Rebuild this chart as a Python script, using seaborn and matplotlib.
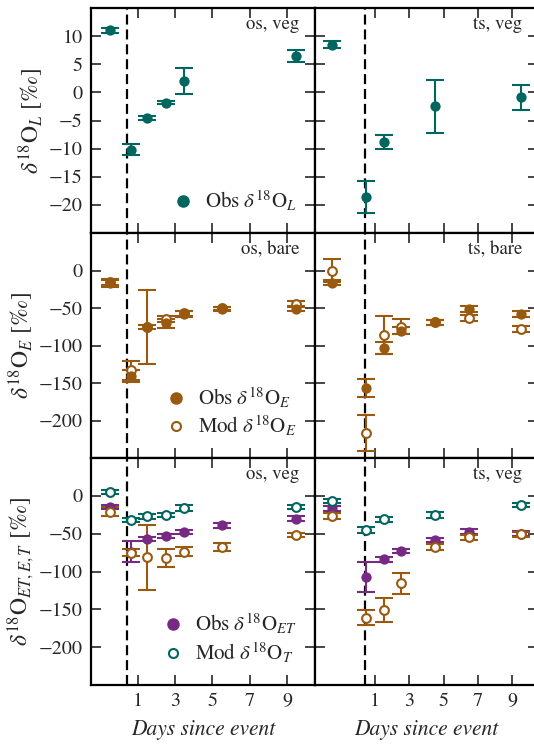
import matplotlib
matplotlib.use('Agg')
import matplotlib.pyplot as plt
from matplotlib.lines import Line2D
import seaborn as sns
import pandas as pd

sns.set_style('ticks')
plt.rcParams['font.family'] = 'serif'
plt.rcParams['font.serif'] = ['STIXGeneral', 'Liberation Serif', 'DejaVu Serif']
plt.rcParams['mathtext.fontset'] = 'stix'
plt.rcParams['axes.linewidth'] = 1.6
plt.rcParams['axes.edgecolor'] = 'black'

TEAL = '#01665e'
BROWN = '#995a10'
PURPLE = '#762a83'

# ---- data (days since event, delta18O in permil) ----
# row 1: leaf water, obs only
os_L_x = [-0.5, 0.62, 1.5, 2.5, 3.5, 9.5]
os_L_obs = [11.0, -10.2, -4.5, -1.8, 2.0, 6.5]
os_L_err = [0.4, 1.0, 0.35, 0.35, 2.3, 1.1]

ts_L_x = [-1.5, 0.5, 1.5, 4.5, 9.5]
ts_L_obs = [8.5, -18.6, -8.8, -2.5, -0.9]
ts_L_err = [0.6, 2.9, 1.25, 4.7, 2.2]

# row 2: bare soil evaporation
os_E_x = [-0.5, 0.62, 1.5, 2.5, 3.5, 5.5, 9.5]
os_E_obs = [-17, -140, -75, -70, -58, -51, -51]
os_E_obs_err = [5, 8, 3, 6, 4, 3, 3]
os_E_mod = [-15, -133, -75, -65, -57, -50, -44]
os_E_mod_err = [4, 13, 49, 4, 3, 2, 3]

ts_E_x = [-1.5, 0.5, 1.5, 2.5, 4.5, 6.5, 9.5]
ts_E_obs = [-16, -157, -103, -80, -69, -51, -58]
ts_E_obs_err = [3, 12, 8, 5, 3, 4, 4]
ts_E_mod = [0, -216, -86, -75, -69, -63, -78]
ts_E_mod_err = [15, 24, 25, 10, 3, 4, 4]

# row 3: vegetated, ET obs, T and E modelled
os_ET_x = [-0.5, 0.62, 1.5, 2.5, 3.5, 5.5, 9.5]
os_ET_obs = [-14.5, -74, -57, -53, -48, -39, -30]
os_ET_err = [3, 14, 3, 3, 3, 3, 3]
os_T_x = [-0.5, 0.62, 1.5, 2.5, 3.5, 9.5]
os_T_mod = [5, -32, -27, -25.6, -15.5, -14.5]
os_T_err = [3, 3, 3, 3, 4, 3]
os_Ev_mod = [-21, -75, -81, -82, -74, -67.5, -51.6]
os_Ev_err = [6, 5, 43, 12, 6, 5, 3]

ts_ET_x = [-1.5, 0.5, 1.5, 2.5, 4.5, 6.5, 9.5]
ts_ET_obs = [-16.7, -107, -84, -72.8, -58.3, -47.2, -49.8]
ts_ET_err = [3, 20, 3, 3, 3, 3, 3]
ts_T_x = [-1.5, 0.5, 1.5, 4.5, 9.5]
ts_T_mod = [-6.6, -45.4, -31, -25.6, -12.3]
ts_T_err = [3, 4, 3, 4, 3]
ts_Ev_mod = [-26.5, -161, -151, -115.6, -67.5, -55, -51]
ts_Ev_err = [4, 10, 16, 14, 4, 3, 3]

event_day = 0.42
xticks = [1, 3, 5, 7, 9]

W, H = 534, 744
fig = plt.figure(figsize=(W / 100, H / 100), dpi=100)


def px_axes(x0, x1, y0, y1):
    return fig.add_axes([x0 / W, 1 - y1 / H, (x1 - x0) / W, (y1 - y0) / H])


rows = [(8, 233), (233, 458), (458, 685)]
axes = []
for (y0, y1) in rows:
    a_l = px_axes(91, 315, y0, y1)
    a_r = px_axes(315, 538, y0, y1)
    axes.append((a_l, a_r))


def draw(ax, x, y, err, color, filled):
    ax.errorbar(x, y, yerr=err, fmt='none', ecolor=color, elinewidth=1.5,
                capsize=6.5, capthick=1.5, zorder=2)
    df = pd.DataFrame({'x': x, 'y': y})
    if filled:
        sns.scatterplot(data=df, x='x', y='y', ax=ax, color=color, s=55,
                        edgecolor=color, linewidth=0, zorder=3)
    else:
        sns.scatterplot(data=df, x='x', y='y', ax=ax, s=40, marker='o',
                        facecolor='white', edgecolor=color, linewidth=1.5,
                        zorder=3)


# row 1
draw(axes[0][0], os_L_x, os_L_obs, os_L_err, TEAL, True)
draw(axes[0][1], ts_L_x, ts_L_obs, ts_L_err, TEAL, True)
# row 2
draw(axes[1][0], os_E_x, os_E_mod, os_E_mod_err, BROWN, False)
draw(axes[1][0], os_E_x, os_E_obs, os_E_obs_err, BROWN, True)
draw(axes[1][1], ts_E_x, ts_E_mod, ts_E_mod_err, BROWN, False)
draw(axes[1][1], ts_E_x, ts_E_obs, ts_E_obs_err, BROWN, True)
# row 3
draw(axes[2][0], os_ET_x, os_ET_obs, os_ET_err, PURPLE, True)
draw(axes[2][0], os_T_x, os_T_mod, os_T_err, TEAL, False)
draw(axes[2][0], os_ET_x, os_Ev_mod, os_Ev_err, BROWN, False)
draw(axes[2][1], ts_ET_x, ts_ET_obs, ts_ET_err, PURPLE, True)
draw(axes[2][1], ts_T_x, ts_T_mod, ts_T_err, TEAL, False)
draw(axes[2][1], ts_ET_x, ts_Ev_mod, ts_Ev_err, BROWN, False)

labels = [('os, veg', 'ts, veg'), ('os, bare', 'ts, bare'), ('os, veg', 'ts, veg')]
ylabels = [r'$\delta^{18}\mathrm{O}_{L}$ [$\perthousand$]',
           r'$\delta^{18}\mathrm{O}_{E}$ [$\perthousand$]',
           r'$\delta^{18}\mathrm{O}_{ET,E,T}$ [$\perthousand$]']

for i, (a_l, a_r) in enumerate(axes):
    for j, ax in enumerate((a_l, a_r)):
        ax.axvline(event_day, color='black', lw=1.6, ls=(0, (4.5, 2.2)), zorder=1)
        ax.set_xlim(-1.5 if j == 0 else -2.5, 10.5)
        if i == 0:
            ax.set_ylim(-25, 15)
            ax.set_yticks([10, 5, 0, -5, -10, -15, -20])
        else:
            ax.set_ylim(-250, 50)
            ax.set_yticks([0, -50, -100, -150, -200])
        ax.set_xticks(xticks)
        ax.tick_params(direction='in', top=True, right=True, length=7,
                       width=1.2, labelsize=14.5, pad=6)
        ax.set_xlabel('')
        ax.set_ylabel('')
        ax.text(0.93, 0.965, labels[i][j], transform=ax.transAxes,
                ha='right', va='top', fontsize=13.5)
        if j == 1:
            ax.tick_params(labelleft=False)
        if i < 2:
            ax.tick_params(labelbottom=False)
        else:
            ax.set_xlabel('Days since event', style='italic', fontsize=15.5, labelpad=6)
    a_l.set_ylabel(ylabels[i], fontsize=17, labelpad=2)

# legends
leg_kw = dict(loc='lower right', bbox_to_anchor=(0.955, 0.05), frameon=False,
              fontsize=15, handletextpad=0.45, borderaxespad=0,
              handlelength=1.2, labelspacing=0.2)
h1 = [Line2D([], [], ls='none', marker='o', ms=8, color=TEAL)]
axes[0][0].legend(h1, [r'Obs $\delta^{18}\mathrm{O}_{L}$'], **leg_kw)
h2 = [Line2D([], [], ls='none', marker='o', ms=8, color=BROWN),
      Line2D([], [], ls='none', marker='o', ms=6.5, mfc='white', mec=BROWN, mew=1.5)]
axes[1][0].legend(h2, [r'Obs $\delta^{18}\mathrm{O}_{E}$', r'Mod $\delta^{18}\mathrm{O}_{E}$'],
                  **leg_kw)
h3 = [Line2D([], [], ls='none', marker='o', ms=8, color=PURPLE),
      Line2D([], [], ls='none', marker='o', ms=6.5, mfc='white', mec=TEAL, mew=1.5)]
axes[2][0].legend(h3, [r'Obs $\delta^{18}\mathrm{O}_{ET}$', r'Mod $\delta^{18}\mathrm{O}_{T}$'],
                  **leg_kw)

fig.savefig('out.png', dpi=100)
